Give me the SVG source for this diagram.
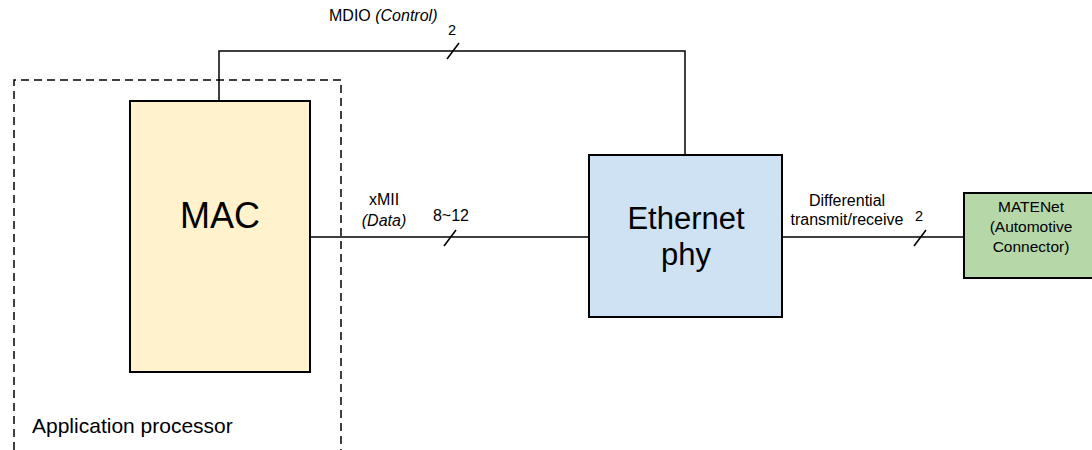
<svg xmlns="http://www.w3.org/2000/svg" width="1092" height="450" viewBox="0 0 1092 450">
  <style>
    .box { stroke: #000; stroke-width: 2; }
    .wire { fill: none; stroke: #000; stroke-width: 1.5; }
    .tick { fill: none; stroke: #000; stroke-width: 1.5; }
    .lbl { font-family: "Liberation Sans", Arial, sans-serif; fill: #000; }
    .sm { font-size: 16px; }
    .it { font-style: italic; }
  </style>
  <rect width="1092" height="450" fill="#fff"/>

  <!-- Application processor boundary -->
  <g id="app-processor">
    <path d="M14,450 V80 H341 V450" fill="none" stroke="#000" stroke-width="1.5" stroke-dasharray="8,5"/>
    <text class="lbl" x="32" y="433" font-size="21">Application processor</text>
  </g>

  <g id="connectors">
    <!-- MDIO control bus -->
    <path class="wire" d="M219,101 V51 H685 V155"/>
    <path class="tick" d="M447,59 L459,43"/>
    <!-- xMII data bus -->
    <path class="wire" d="M310,237 H589"/>
    <path class="tick" d="M444,246 L456,230"/>
    <!-- differential pair -->
    <path class="wire" d="M782,237 H964"/>
    <path class="tick" d="M914,246 L926,230"/>

    <text class="lbl sm" x="329" y="21">MDIO <tspan class="it">(Control)</tspan></text>
    <text class="lbl" x="452" y="35" font-size="14.5" text-anchor="middle">2</text>
    <text class="lbl sm" x="384" y="205" text-anchor="middle">xMII</text>
    <text class="lbl sm it" x="384" y="226" text-anchor="middle">(Data)</text>
    <text class="lbl sm" x="451" y="221" text-anchor="middle">8~12</text>
    <text class="lbl sm" x="847" y="206" text-anchor="middle">Differential</text>
    <text class="lbl sm" x="847" y="225" text-anchor="middle">transmit/receive</text>
    <text class="lbl" x="919" y="221" font-size="14.5" text-anchor="middle">2</text>
  </g>

  <g id="mac">
    <rect class="box" x="130" y="101" width="180" height="271" fill="#fff2cc"/>
    <text class="lbl" x="220" y="228" font-size="36" text-anchor="middle">MAC</text>
  </g>

  <g id="ethernet-phy">
    <rect class="box" x="589" y="155" width="193" height="162" fill="#cfe2f3"/>
    <text class="lbl" x="686" y="229" font-size="31" text-anchor="middle">Ethernet</text>
    <text class="lbl" x="686" y="265" font-size="31" text-anchor="middle">phy</text>
  </g>

  <g id="matenet">
    <rect class="box" x="964" y="193" width="140" height="85" fill="#b6d7a8"/>
    <text class="lbl" x="1031" y="212" font-size="15.5" text-anchor="middle">MATENet</text>
    <text class="lbl" x="1031" y="232" font-size="15.5" text-anchor="middle">(Automotive</text>
    <text class="lbl" x="1031" y="252" font-size="15.5" text-anchor="middle">Connector)</text>
  </g>
</svg>
